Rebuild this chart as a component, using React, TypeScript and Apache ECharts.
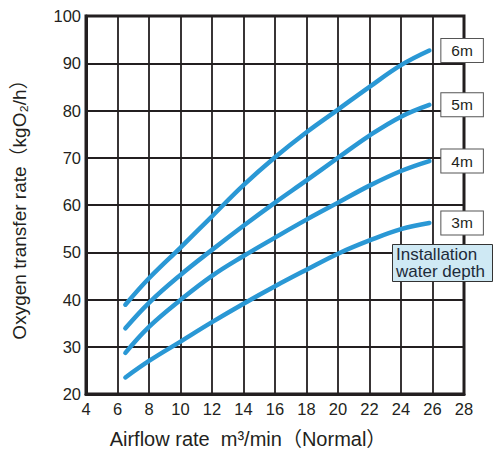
import React, { useEffect, useRef } from "react";
import * as echarts from "echarts";

const airflow = [6.5, 8, 10, 12, 14, 16, 18, 20, 22, 24, 25.8];
const depth6m = [38.9, 44.5, 51.0, 57.6, 64.2, 70.1, 75.4, 80.2, 85.0, 89.6, 92.7];
const depth5m = [33.9, 39.3, 45.2, 50.5, 55.6, 60.5, 65.2, 70.0, 74.7, 78.7, 81.2];
const depth4m = [28.7, 34.2, 39.9, 45.0, 49.2, 53.1, 56.9, 60.5, 64.1, 67.2, 69.3];
const depth3m = [23.5, 27.0, 31.1, 35.2, 39.1, 42.8, 46.3, 49.7, 52.5, 54.9, 56.2];
const seriesNames = ["6m", "5m", "4m", "3m"];
const xTicks = { min: 4, max: 28, interval: 2 };
const yTicks = { min: 20, max: 100, interval: 10 };
const xAxisTitle = "Airflow rate  m\u00B3/min\uFF08Normal\uFF09";
const yAxisTitle = "Oxygen transfer rate\uFF08kgO\u2082/h\uFF09";
const noteText = "Installation\nwater depth";

const FONT = '"Liberation Sans", Arial, "Noto Sans CJK JP", sans-serif';
const INK = "#231f20";
const BLUE = "#2a98d5";

export default function App() {
  const ref = useRef<HTMLDivElement>(null);
  useEffect(() => {
    document.body.style.margin = "0";
    if (!ref.current) return;
    const chart = echarts.init(ref.current, undefined, { renderer: "svg" });
    const allData = [depth6m, depth5m, depth4m, depth3m];
    const series = allData.map((vals, i) => ({
      name: seriesNames[i],
      type: "line",
      smooth: 0.4,
      symbol: "none",
      data: airflow.map((x, j) => [x, vals[j]]),
      lineStyle: { color: BLUE, width: 4.5, cap: "round" },
      z: 3,
      endLabel: {
        show: true,
        formatter: "{a}",
        distance: 12,
        fontFamily: FONT,
        fontSize: 15.5,
        lineHeight: 17,
        color: INK,
        backgroundColor: "#ffffff",
        borderColor: "#555555",
        borderWidth: 1,
        padding: [3, 10, 3, 10],
      },
    }));
    chart.setOption({
      animation: false,
      backgroundColor: "#ffffff",
      grid: {
        left: 86,
        right: 32,
        top: 16,
        bottom: 61,
        show: true,
        borderColor: INK,
        borderWidth: 3,
        backgroundColor: "transparent",
      },
      xAxis: {
        type: "value",
        min: xTicks.min,
        max: xTicks.max,
        interval: xTicks.interval,
        axisLine: { show: true, lineStyle: { color: INK, width: 3 } },
        axisTick: { show: false },
        axisLabel: { color: INK, fontSize: 16.5, fontFamily: FONT, margin: 7 },
        splitLine: { show: true, lineStyle: { color: INK, width: 1.8 } },
      },
      yAxis: {
        type: "value",
        min: yTicks.min,
        max: yTicks.max,
        interval: yTicks.interval,
        axisLine: { show: true, lineStyle: { color: INK, width: 3 } },
        axisTick: { show: false },
        axisLabel: { color: INK, fontSize: 16.5, fontFamily: FONT, margin: 5 },
        splitLine: { show: true, lineStyle: { color: INK, width: 1.8 } },
      },
      series,
      graphic: [
        {
          type: "text",
          x: 248,
          y: 439,
          style: {
            text: xAxisTitle,
            fontFamily: FONT,
            fontSize: 20,
            fill: INK,
            align: "center",
            verticalAlign: "middle",
          },
        },
        {
          type: "text",
          x: 19,
          y: 205,
          rotation: Math.PI / 2,
          style: {
            text: yAxisTitle,
            fontFamily: FONT,
            fontSize: 19,
            fill: INK,
            align: "center",
            verticalAlign: "middle",
          },
        },
        {
          type: "rect",
          shape: { x: 392.5, y: 244.5, width: 100, height: 37 },
          style: { fill: "#cfe9f4", stroke: "#333333", lineWidth: 1 },
          z: 10,
        },
        {
          type: "text",
          x: 396,
          y: 245.5,
          z: 11,
          style: {
            text: noteText,
            fontFamily: FONT,
            fontSize: 17,
            lineHeight: 17,
            fill: "#1d2b3a",
            align: "left",
            verticalAlign: "top",
          },
        },
      ],
    });
    return () => chart.dispose();
  }, []);
  return <div ref={ref} style={{ width: 496, height: 455 }} />;
}
